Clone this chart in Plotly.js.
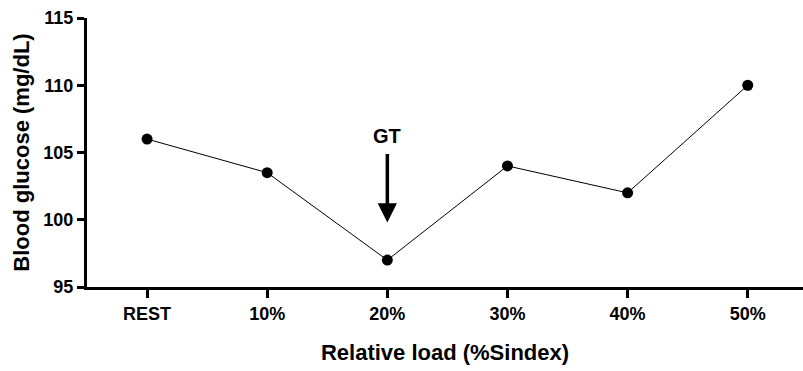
<!DOCTYPE html>
<html><head><meta charset="utf-8">
<script src="https://cdn.plot.ly/plotly-3.0.1.min.js"></script>
<style>html,body{margin:0;padding:0;background:#fff}#chart{width:803px;height:371px}</style>
</head><body><div id="chart"></div>
<script>
const categories = ["REST", "10%", "20%", "30%", "40%", "50%"];
const glucose = [106, 103.5, 97, 104, 102, 110];
const yTicks = [95, 100, 105, 110, 115];
const arrowLabel = "GT";
const arrowCategoryIndex = 2;
const arrowTip = 99.8;
const arrowTail = 105.0;

const font = "Liberation Sans, Arial, sans-serif";
const xIdx = categories.map((c, i) => i);

const trace = {
  x: xIdx, y: glucose, type: "scatter", mode: "lines+markers",
  line: {color: "#000", width: 1},
  marker: {color: "#000", size: 11},
  cliponaxis: false, hoverinfo: "skip"
};

const layout = {
  width: 803, height: 371,
  margin: {l: 87, r: 0, t: 18, b: 84},
  paper_bgcolor: "#fff", plot_bgcolor: "#fff",
  showlegend: false,
  font: {family: font, color: "#000"},
  xaxis: {
    range: [-0.5, 5.46], tickvals: xIdx, ticktext: categories.map(c => "<b>" + c + "</b>"),
    showgrid: false, zeroline: false, showline: true, linecolor: "#000", linewidth: 3,
    ticks: "outside", ticklen: 8, tickwidth: 3, tickcolor: "#000",
    tickfont: {family: font, size: 18, color: "#000"},
    title: {text: "<b>Relative load (%Sindex)</b>", font: {family: font, size: 22, color: "#000"}, standoff: 23}
  },
  yaxis: {
    range: [95, 115], tickvals: yTicks, ticktext: yTicks.map(v => "<b>" + v + "</b>"),
    showgrid: false, zeroline: false, showline: true, linecolor: "#000", linewidth: 3,
    ticks: "outside", ticklen: 7, tickwidth: 3, tickcolor: "#000",
    tickfont: {family: font, size: 18, color: "#000"},
    title: {text: "<b>Blood glucose (mg/dL)</b>", font: {family: font, size: 22, color: "#000"}, standoff: 8}
  },
  annotations: [
    {x: arrowCategoryIndex, y: arrowTip, ax: arrowCategoryIndex, ay: arrowTail,
     axref: "x", ayref: "y", xref: "x", yref: "y", text: "", showarrow: true,
     arrowhead: 2, arrowsize: 1.1, arrowwidth: 3.5, arrowcolor: "#000"},
    {x: arrowCategoryIndex, y: arrowTail, xref: "x", yref: "y", text: "<b>" + arrowLabel + "</b>",
     showarrow: false, yanchor: "bottom", yshift: 4, font: {family: font, size: 20, color: "#000"}}
  ]
};
Plotly.newPlot("chart", [trace], layout, {staticPlot: true, displayModeBar: false});
</script></body></html>
